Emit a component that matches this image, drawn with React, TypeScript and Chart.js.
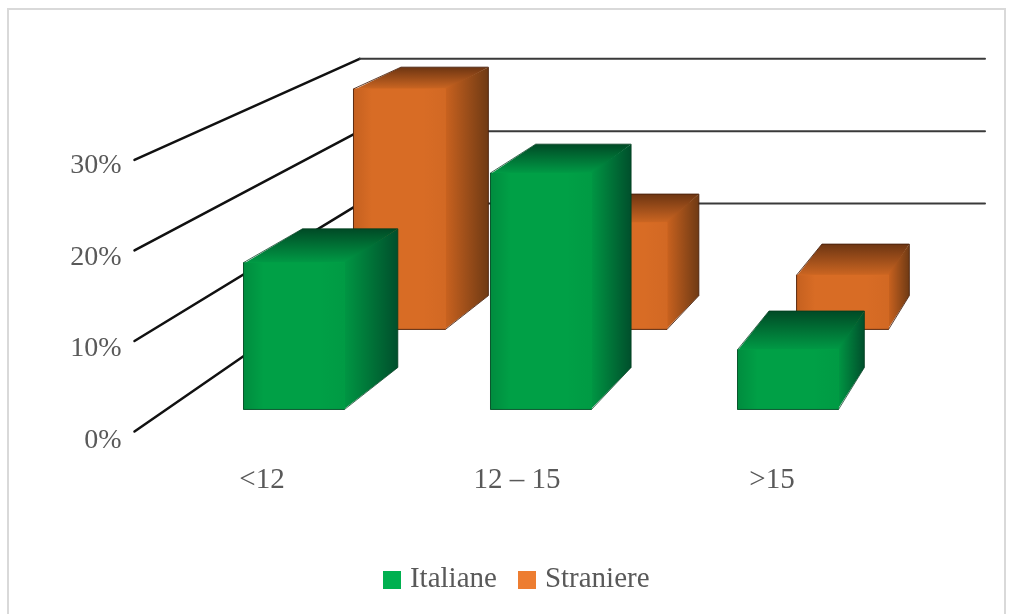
import React, { useEffect, useRef } from "react";
import { Chart, registerables } from "chart.js";

Chart.register(...registerables);

const categories = ["<12", "12 – 15", ">15"];
const categoryIndex = [0, 1, 2];
const italiane = [16.7, 26.9, 6.8];
const straniere = [30.6, 13.6, 6.9];
const yTicks = [0, 10, 20, 30];

const FONT = "'Liberation Serif', 'Times New Roman', serif";
const TEXT = "#595959";
const CANVAS_W = 995;
const CANVAS_H = 604;

const VANISH = { x: 1295, y: -356 };
const WALL_VANISH = { x: 1251, y: -356 };
const WALL_K = 0.2;
const WALL_RIGHT = 976;

const looks: any = {
  xGreen: {
    k: 0.0556,
    topBack: "#004a26",
    topFront: "#009a45",
    sideFront: "#009643",
    sideBack: "#004f2c",
    edge: "rgba(0,60,30,0.75)",
    shade: ["rgba(0,70,35,0.22)", "rgba(0,70,35,0)", "rgba(0,70,35,0)", "rgba(0,70,35,0.06)"],
  },
  xOrange: {
    k: 0.05,
    topBack: "#6d3512",
    topFront: "#cc6622",
    sideFront: "#c9621f",
    sideBack: "#6f3a14",
    edge: "rgba(70,30,10,0.85)",
    shade: ["rgba(120,50,10,0.2)", "rgba(120,50,10,0)", "rgba(120,50,10,0)", "rgba(90,40,10,0.05)"],
  },
};

const project = (x: number, y: number, k: number, v = VANISH): [number, number] => [
  x + k * (v.x - x),
  y + k * (v.y - y),
];

function trace(ctx: CanvasRenderingContext2D, pts: [number, number][]) {
  ctx.beginPath();
  pts.forEach((p, i) => (i ? ctx.lineTo(p[0], p[1]) : ctx.moveTo(p[0], p[1])));
  ctx.closePath();
}

function face(ctx: CanvasRenderingContext2D, pts: [number, number][], fill: any) {
  trace(ctx, pts);
  ctx.fillStyle = fill;
  ctx.fill();
}

const walls = {
  id: "walls",
  afterLayout(chart: any) {
    if (chart.legend) {
      chart.legend.left += 2;
      chart.legend.right += 2;
    }
  },
  beforeDatasetsDraw(chart: any) {
    const { ctx, chartArea, scales } = chart;
    ctx.save();
    ctx.lineCap = "round";
    scales.y.ticks.forEach((t: any) => {
      const y = scales.yWall.getPixelForValue(t.value);
      const [bx, by] = project(chartArea.left, y, WALL_K, WALL_VANISH);
      ctx.beginPath();
      ctx.moveTo(chartArea.left, y);
      ctx.lineTo(bx, by);
      ctx.strokeStyle = "#111111";
      ctx.lineWidth = 2.5;
      ctx.stroke();
      if (t.value > 0) {
        ctx.beginPath();
        ctx.moveTo(bx, by);
        ctx.lineTo(WALL_RIGHT, by);
        ctx.strokeStyle = "#3a3a3a";
        ctx.lineWidth = 2;
        ctx.stroke();
      }
    });
    ctx.restore();
  },
};

const extrude = {
  id: "extrude",
  beforeDatasetDraw(chart: any, args: any) {
    const { ctx } = chart;
    const meta = chart.getDatasetMeta(args.index);
    const look = looks[meta.xAxisID];
    ctx.save();
    meta.data.forEach((bar: any) => {
      const l = bar.x - bar.width / 2;
      const r = bar.x + bar.width / 2;
      const t = bar.y;
      const b = bar.base;
      const bl = project(l, t, look.k);
      const br = project(r, t, look.k);
      const bb = project(r, b, look.k);
      const top = ctx.createLinearGradient(0, bl[1], 0, t);
      top.addColorStop(0, look.topBack);
      top.addColorStop(1, look.topFront);
      face(ctx, [[l, t + 1], bl, br, [r, t + 1]], top);
      const side = ctx.createLinearGradient(r, 0, br[0], 0);
      side.addColorStop(0, look.sideFront);
      side.addColorStop(1, look.sideBack);
      face(ctx, [[r - 1, t], br, bb, [r - 1, b]], side);
    });
    ctx.restore();
  },
  afterDatasetDraw(chart: any, args: any) {
    const { ctx } = chart;
    const meta = chart.getDatasetMeta(args.index);
    const look = looks[meta.xAxisID];
    ctx.save();
    meta.data.forEach((bar: any) => {
      const l = bar.x - bar.width / 2;
      const r = bar.x + bar.width / 2;
      const t = bar.y;
      const b = bar.base;
      const g = ctx.createLinearGradient(l, 0, r, 0);
      g.addColorStop(0, look.shade[0]);
      g.addColorStop(0.2, look.shade[1]);
      g.addColorStop(0.75, look.shade[2]);
      g.addColorStop(1, look.shade[3]);
      ctx.fillStyle = g;
      ctx.fillRect(l, t, bar.width, b - t);
      ctx.strokeStyle = look.edge;
      ctx.lineWidth = 1;
      trace(ctx, [[l, t], project(l, t, look.k), project(r, t, look.k), project(r, b, look.k), [r, b], [l, b]]);
      ctx.stroke();
    });
    ctx.restore();
  },
};

function swatch(color: string) {
  const c = document.createElement("canvas");
  c.width = 18;
  c.height = 18;
  const x = c.getContext("2d")!;
  x.fillStyle = color;
  x.fillRect(0, 0, 18, 18);
  return c;
}

const indexTicks = (s: any) => {
  s.ticks = categoryIndex.map((value) => ({ value }));
};

export default function App() {
  const ref = useRef<HTMLCanvasElement>(null);
  useEffect(() => {
    if (!ref.current) return;
    const swatches = [swatch("#00b050"), swatch("#ed7d31")];
    const pts = (vals: number[]) => vals.map((y, i) => ({ x: categoryIndex[i], y }));
    const chart = new Chart(ref.current, {
      type: "bar",
      data: {
        labels: categories,
        datasets: [
          {
            label: "Italiane",
            data: pts(italiane),
            xAxisID: "xGreen",
            yAxisID: "yGreen",
            backgroundColor: "#00a046",
            grouped: false,
            barPercentage: 1,
            categoryPercentage: 1,
            maxBarThickness: 101,
          },
          {
            label: "Straniere",
            data: pts(straniere),
            xAxisID: "xOrange",
            yAxisID: "yOrange",
            backgroundColor: "#d86c25",
            grouped: false,
            barPercentage: 1,
            categoryPercentage: 1,
            maxBarThickness: 92,
          },
        ] as any,
      },
      plugins: [walls, extrude],
      options: {
        animation: false,
        responsive: false,
        events: [],
        layout: { padding: { left: 0, right: CANVAS_W - 890.5, top: 0, bottom: 10 } },
        plugins: {
          tooltip: { enabled: false },
          legend: {
            display: true,
            position: "bottom",
            fullSize: false,
            labels: {
              usePointStyle: true,
              pointStyleWidth: 7,
              boxHeight: 18,
              padding: 26.5,
              color: TEXT,
              font: { family: FONT, size: 29 },
              generateLabels: (c: any) =>
                c.data.datasets.map((d: any, i: number) => ({
                  text: d.label,
                  pointStyle: swatches[i],
                  fontColor: TEXT,
                  datasetIndex: i,
                })),
            },
          },
        },
        scales: {
          x: {
            type: "category",
            position: "bottom",
            offset: true,
            grid: { display: false },
            border: { display: false },
            ticks: {
              color: TEXT,
              font: { family: FONT, size: 29 },
              padding: 16,
              maxRotation: 0,
              autoSkip: false,
            },
            afterFit: (s: any) => {
              s.height = 100;
            },
          },
          y: {
            type: "linear",
            position: "left",
            min: 0.22,
            max: 47,
            grid: { display: false, drawTicks: false },
            border: { display: false },
            afterBuildTicks: (s: any) => {
              s.ticks = yTicks.map((value) => ({ value }));
            },
            ticks: {
              color: TEXT,
              font: { family: FONT, size: 28 },
              padding: 13,
              callback: (v: any) => `${v}%`,
            },
            afterFit: (s: any) => {
              s.width = 125.5;
              s.paddingTop = 0;
              s.paddingBottom = 0;
            },
          },
          yWall: { axis: "y", type: "linear", display: false, min: -0.774, max: 46.57 },
          yGreen: { axis: "y", type: "linear", display: false, min: -3.303, max: 45.44 },
          yOrange: { axis: "y", type: "linear", display: false, min: -13.885, max: 40.64 },
          xGreen: {
            axis: "x",
            type: "linear",
            display: false,
            offset: false,
            min: -0.6457,
            max: 2.4514,
            afterBuildTicks: indexTicks,
          },
          xOrange: {
            axis: "x",
            type: "linear",
            display: false,
            offset: false,
            min: -1.196,
            max: 2.257,
            afterBuildTicks: indexTicks,
          },
        },
      } as any,
    });
    return () => chart.destroy();
  }, []);
  return (
    <div
      style={{
        position: "fixed",
        left: 7,
        top: 8,
        borderTop: "2px solid #d9d9d9",
        borderLeft: "2px solid #d9d9d9",
        borderRight: "2px solid #d9d9d9",
        background: "#fff",
      }}
    >
      <canvas ref={ref} width={CANVAS_W} height={CANVAS_H} style={{ display: "block" }} />
    </div>
  );
}
